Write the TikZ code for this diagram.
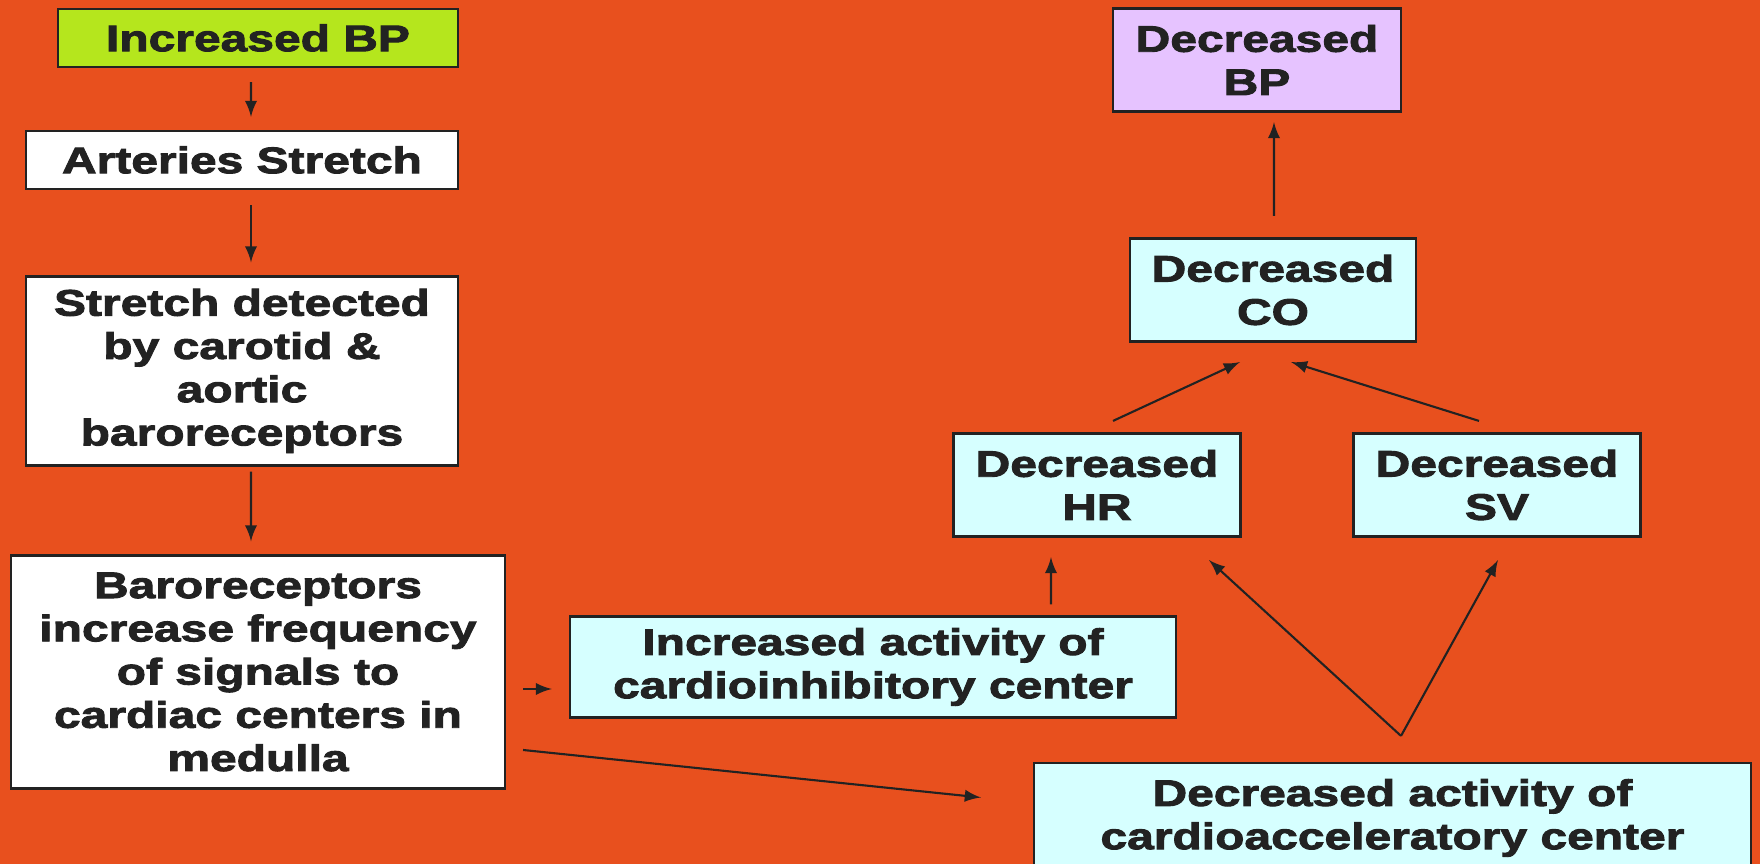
\documentclass[tikz,border=0pt]{standalone}
\usepackage{fontspec}
\setmainfont{Liberation Sans}[BoldFeatures={FakeStretch=1.3,FakeBold=2.5}]
\usetikzlibrary{positioning}
\definecolor{bgorange}{RGB}{232,80,30}
\definecolor{limebox}{RGB}{181,230,29}
\definecolor{lilacbox}{RGB}{230,195,255}
\definecolor{cyanbox}{RGB}{214,255,255}
\definecolor{inkgray}{RGB}{34,34,34}

\begin{document}
\begin{tikzpicture}[
  every node/.style={rectangle,draw=inkgray,line width=0.6pt,align=center,inner sep=0pt,
    text=inkgray,font=\fontsize{10.5}{12.3}\selectfont\bfseries},
  flow/.style={draw=inkgray,line width=0.6pt,->,>=latex},
  white box/.style={fill=white},
  cyan box/.style={fill=cyanbox},
  ]
  \useasboundingbox (0,0) rectangle (17.6,8.64);
  \fill[bgorange] (0,0) rectangle (17.6,8.64);

  \node[fill=limebox,minimum width=4cm,minimum height=0.58cm] (incbp) at (2.58,8.26) {Increased BP};
  \node[white box,minimum width=4.32cm,minimum height=0.58cm] (arteries) at (2.42,7.04) {Arteries Stretch};
  \node[white box,minimum width=4.32cm,minimum height=1.89cm] (detected) at (2.42,4.93)
    {Stretch detected\\ by carotid \&\\ aortic\\ baroreceptors};
  \node[white box,minimum width=4.94cm,minimum height=2.33cm] (baro) at (2.58,1.92)
    {Baroreceptors\\ increase frequency\\ of signals to\\ cardiac centers in\\ medulla};
  \node[cyan box,minimum width=6.06cm,minimum height=1.01cm] (incact) at (8.73,1.97)
    {Increased activity of\\ cardioinhibitory center};
  \node[cyan box,minimum width=7.17cm,minimum height=1.1cm] (decact) at (13.925,0.46)
    {Decreased activity of\\ cardioacceleratory center};
  \node[fill=lilacbox,minimum width=2.88cm,minimum height=1.03cm] (decbp) at (12.57,8.04) {Decreased\\ BP};
  \node[cyan box,minimum width=2.86cm,minimum height=1.03cm] (decco) at (12.73,5.74) {Decreased\\ CO};
  \node[cyan box,minimum width=2.87cm,minimum height=1.03cm] (dechr) at (10.97,3.79) {Decreased\\ HR};
  \node[cyan box,minimum width=2.87cm,minimum height=1.03cm] (decsv) at (14.97,3.79) {Decreased\\ SV};

  \draw[flow] ([shift={(-0.07,-0.14)}]incbp.south) -- ([shift={(0.09,0.13)}]arteries.north);
  \draw[flow] ([shift={(0.09,-0.15)}]arteries.south) -- ([shift={(0.09,0.13)}]detected.north);
  \draw[flow] ([shift={(0.09,-0.05)}]detected.south) -- ([shift={(-0.07,0.13)}]baro.north);
  \draw[flow] ([shift={(0.17,-0.17)}]baro.east) -- ([shift={(-0.17,-0.22)}]incact.west);
  \draw[flow] ([shift={(0.17,-0.78)}]baro.east) -- ([shift={(-0.52,0.205)}]decact.west);
  \draw[flow] ([shift={(1.78,0.11)}]incact.north) -- ([shift={(-0.46,-0.195)}]dechr.south);
  \draw[flow] ([shift={(0.085,0.26)}]decact.north) -- ([shift={(1.12,-0.225)}]dechr.south);
  \draw[flow] ([shift={(0.085,0.26)}]decact.north) -- ([shift={(0.01,-0.225)}]decsv.south);
  \draw[flow] ([shift={(0.16,0.115)}]dechr.north) -- ([shift={(-0.33,-0.195)}]decco.south);
  \draw[flow] ([shift={(-0.18,0.115)}]decsv.north) -- ([shift={(0.18,-0.195)}]decco.south);
  \draw[flow] ([shift={(0.01,0.215)}]decco.north) -- ([shift={(0.17,-0.095)}]decbp.south);
\end{tikzpicture}
\end{document}
